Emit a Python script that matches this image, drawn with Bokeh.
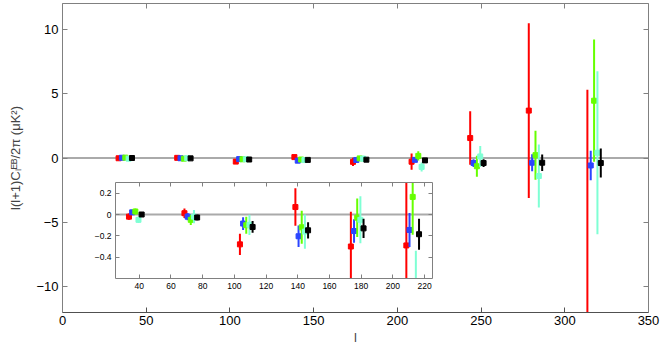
import numpy as np
from bokeh.plotting import figure
from bokeh.models import ColumnDataSource, Span, LinearAxis, FixedTicker
from bokeh.layouts import column
from bokeh.embed import file_html
from bokeh.resources import INLINE

# ---------------- data ----------------
ell_bins = [33.5, 68.5, 103.5, 138.5, 173.5, 208.5, 243.5, 278.5, 313.5]
series_names = ["red", "blue", "green", "cyan", "black"]
series_shift = [0, 2, 4, 6, 8]

red_val = [-0.02, 0.012, -0.28, 0.07, -0.30, -0.29, 1.55, 3.68, -13.5]
red_err = [0.03, 0.045, 0.10, 0.175, 0.325, 0.63, 2.08, 6.78, 18.8]
blue_val = [0.02, -0.02, -0.085, -0.204, -0.155, -0.145, -0.39, -0.365, -0.58]
blue_err = [0.025, 0.035, 0.06, 0.10, 0.11, 0.16, 0.30, 0.665, 1.15]
green_val = [0.028, -0.05, -0.10, -0.12, -0.03, 0.165, -0.64, 0.22, 4.45]
green_err = [0.028, 0.048, 0.08, 0.155, 0.18, 0.355, 0.81, 1.90, 4.75]
cyan_val = [-0.05, -0.02, -0.097, -0.16, -0.05, -0.69, 0.12, -1.40, 0.41]
cyan_err = [0.03, 0.062, 0.095, 0.16, 0.22, 0.35, 0.82, 2.45, 6.33]
black_val = [0.0, -0.028, -0.117, -0.148, -0.13, -0.185, -0.39, -0.365, -0.39]
black_err = [0.015, 0.025, 0.055, 0.076, 0.09, 0.145, 0.30, 0.635, 1.13]

main_xticks = [0, 50, 100, 150, 200, 250, 300, 350]
main_yticks = [-10, -5, 0, 5, 10]
inset_xticks = [40, 60, 80, 100, 120, 140, 160, 180, 200, 220]
inset_yticks = [-0.4, -0.2, 0, 0.2]

values = [red_val, blue_val, green_val, cyan_val, black_val]
errors = [red_err, blue_err, green_err, cyan_err, black_err]
colors = ["#ff0000", "#2b45ff", "#66ff00", "#7fffd4", "#000000"]

FONT = "Liberation Sans"


def sources():
    out = []
    for val, err, sh in zip(values, errors, series_shift):
        x = np.array(ell_bins) + sh
        v = np.array(val)
        e = np.array(err)
        out.append(ColumnDataSource(dict(x=x, y=v, lo=v - e, hi=v + e)))
    return out


def style_axis(ax, size, color, labels=True, tick_in=5, standoff=4):
    ax.axis_line_color = color
    ax.axis_line_width = 1
    ax.major_tick_line_color = color
    ax.major_tick_in = tick_in
    ax.major_tick_out = 0
    ax.minor_tick_line_color = None
    ax.major_label_text_font = FONT
    ax.major_label_text_color = "#000000"
    ax.major_label_standoff = standoff
    ax.major_label_text_font_size = size
    if not labels:
        ax.major_label_text_color = None
        ax.major_label_text_font_size = "0px"
        ax.major_label_standoff = 0


def draw(fig, srcs, lw, ms):
    for src, c in zip(srcs, colors):
        fig.segment(x0="x", y0="lo", x1="x", y1="hi", source=src,
                    line_color=c, line_width=lw)
        fig.scatter(x="x", y="y", source=src, marker="square", size=ms,
                    fill_color=c, line_color=c)


# ---------------- main figure ----------------
main = figure(x_range=(0, 350), y_range=(-12, 12),
              frame_width=586, frame_height=309,
              min_border_left=62, min_border_right=12,
              min_border_top=3, min_border_bottom=36,
              output_backend="svg", toolbar_location=None,
              x_axis_location=None, y_axis_location=None)
main.grid.visible = False
main.outline_line_color = None
main.background_fill_color = "white"

zero = Span(location=0, dimension="width", line_color="#aaaaaa",
            line_width=2, level="underlay")
main.add_layout(zero)

xb = LinearAxis(ticker=FixedTicker(ticks=main_xticks), axis_label="l")
style_axis(xb, "13px", "#505050", standoff=3)
xb.axis_label_text_font = FONT
xb.axis_label_text_font_size = "13px"
xb.axis_label_text_font_style = "normal"
xb.axis_label_standoff = 2
main.add_layout(xb, "below")

yl = LinearAxis(ticker=FixedTicker(ticks=main_yticks),
                axis_label="l(l+1)Cₗᴱᴮ/2π (μK²)",
                major_label_overrides={-10: "−10", -5: "−5"})
style_axis(yl, "13px", "#808080", standoff=4)
yl.axis_label_text_font = FONT
yl.axis_label_text_font_size = "13px"
yl.axis_label_text_font_style = "normal"
yl.axis_label_standoff = 10
main.add_layout(yl, "left")

xt = LinearAxis(ticker=FixedTicker(ticks=main_xticks))
style_axis(xt, "13px", "#808080", labels=False)
main.add_layout(xt, "above")
yr = LinearAxis(ticker=FixedTicker(ticks=main_yticks))
style_axis(yr, "13px", "#808080", labels=False)
main.add_layout(yr, "right")

draw(main, sources(), 2, 5)

# ---------------- inset figure ----------------
# column() aligns the children's left/right borders, so the inset uses the
# same borders as the main plot and is shifted with a margin.
inset = figure(x_range=(25, 225), y_range=(-0.6, 0.3),
               frame_width=317, frame_height=96,
               min_border_left=62, min_border_right=12,
               min_border_top=2, min_border_bottom=16,
               output_backend="svg", toolbar_location=None,
               x_axis_location=None, y_axis_location=None)
inset.grid.visible = False
inset.outline_line_color = None
inset.background_fill_color = "white"
inset.border_fill_alpha = 0

zero2 = Span(location=0, dimension="width", line_color="#aaaaaa",
             line_width=2, level="underlay")
inset.add_layout(zero2)

ixb = LinearAxis(ticker=FixedTicker(ticks=inset_xticks))
style_axis(ixb, "8.5px", "#808080", tick_in=4, standoff=4)
inset.add_layout(ixb, "below")
iyl = LinearAxis(ticker=FixedTicker(ticks=inset_yticks),
                 major_label_overrides={0.2: "0.2", 0: "0", -0.2: "−0.2", -0.4: "−0.4"})
style_axis(iyl, "8.5px", "#808080", tick_in=4, standoff=4)
inset.add_layout(iyl, "left")
ixt = LinearAxis(ticker=FixedTicker(ticks=inset_xticks))
style_axis(ixt, "8.5px", "#808080", labels=False, tick_in=4)
inset.add_layout(ixt, "above")
iyr = LinearAxis(ticker=FixedTicker(ticks=inset_yticks))
style_axis(iyr, "8.5px", "#808080", labels=False, tick_in=4)
inset.add_layout(iyr, "right")

draw(inset, sources(), 2, 5)

# main height = 3 + 309 + 36 = 348 ; inset figure top wanted at 180,
# inset frame left wanted at 115
inset.margin = (180 - 348, 0, 0, 115 - 62)

layout = column(main, inset)

open("out.html", "w").write(file_html(layout, INLINE))
